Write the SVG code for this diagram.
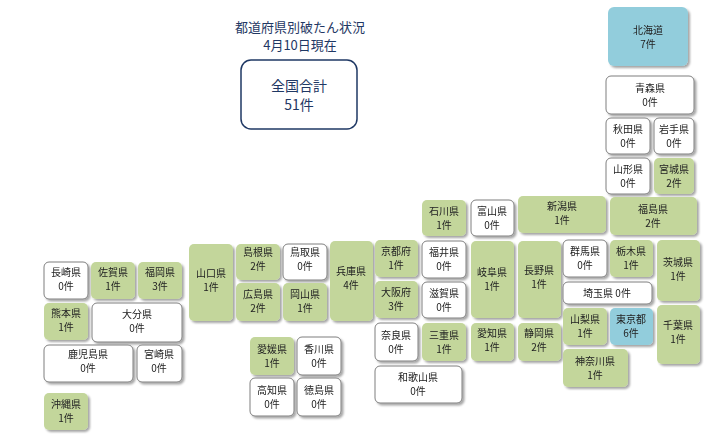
<svg xmlns="http://www.w3.org/2000/svg" width="721" height="438" viewBox="0 0 721 438">
<style>
text{font-family:"Noto Sans CJK JP","Noto Sans CJK SC",sans-serif;font-size:10px;fill:#222;text-anchor:middle}
.g{fill:#c3d69b;stroke:none}
.w{fill:#fff;stroke:#7f7f7f;stroke-width:1}
.b{fill:#92cddc;stroke:none}
.t{font-size:13px;fill:#1f3864}
.n{fill:#fff;stroke:#1f3864;stroke-width:1.5}
.big{font-size:14px;fill:#1f3864}
</style>
<defs><filter id="sh" x="-20%" y="-20%" width="140%" height="140%"><feDropShadow dx="2" dy="2" stdDeviation="1" flood-color="#000" flood-opacity="0.35"/></filter></defs>
<rect width="721" height="438" fill="#fff"/>
<g id="title"><text class="t" x="300" y="32">都道府県別破たん状況</text><text class="t" x="300" y="50">4月10日現在</text></g>
<g id="total"><rect class="n" x="241" y="60" width="116" height="69" rx="10"/><text class="big" x="299" y="91">全国合計</text><text class="big" x="299" y="110">51件</text></g>
<g id="prefs" filter="url(#sh)">
<g id="hokkaido"><rect class="b" x="608" y="7" width="80" height="59" rx="6"/><text x="648" y="34">北海道</text><text x="648" y="48">7件</text></g>
<g id="aomori"><rect class="w" x="606" y="76" width="88" height="38" rx="5"/><text x="650" y="92">青森県</text><text x="650" y="106">0件</text></g>
<g id="akita"><rect class="w" x="606" y="118" width="44" height="36" rx="5"/><text x="628" y="133">秋田県</text><text x="628" y="147">0件</text></g>
<g id="iwate"><rect class="w" x="654" y="118" width="40" height="36" rx="5"/><text x="674" y="133">岩手県</text><text x="674" y="147">0件</text></g>
<g id="yamagata"><rect class="w" x="606" y="158" width="44" height="36" rx="5"/><text x="628" y="173">山形県</text><text x="628" y="187">0件</text></g>
<g id="miyagi"><rect class="g" x="654" y="158" width="40" height="36" rx="5"/><text x="674" y="173">宮城県</text><text x="674" y="187">2件</text></g>
<g id="niigata"><rect class="g" x="518" y="196" width="88" height="37" rx="5"/><text x="562" y="210">新潟県</text><text x="562" y="224">1件</text></g>
<g id="fukushima"><rect class="g" x="610" y="197" width="87" height="38" rx="5"/><text x="653" y="213">福島県</text><text x="653" y="227">2件</text></g>
<g id="ishikawa"><rect class="g" x="422" y="200" width="44" height="36" rx="5"/><text x="444" y="215">石川県</text><text x="444" y="229">1件</text></g>
<g id="toyama"><rect class="w" x="471" y="200" width="43" height="36" rx="5"/><text x="492" y="215">富山県</text><text x="492" y="229">0件</text></g>
<g id="kyoto"><rect class="g" x="375" y="240" width="43" height="37" rx="5"/><text x="396" y="255">京都府</text><text x="396" y="269">1件</text></g>
<g id="fukui"><rect class="w" x="422" y="241" width="44" height="37" rx="5"/><text x="444" y="256">福井県</text><text x="444" y="270">0件</text></g>
<g id="gifu"><rect class="g" x="471" y="241" width="43" height="77" rx="5"/><text x="492" y="276">岐阜県</text><text x="492" y="290">1件</text></g>
<g id="nagano"><rect class="g" x="518" y="241" width="43" height="77" rx="5"/><text x="539" y="274">長野県</text><text x="539" y="288">1件</text></g>
<g id="gunma"><rect class="w" x="563" y="240" width="44" height="37" rx="5"/><text x="585" y="255">群馬県</text><text x="585" y="269">0件</text></g>
<g id="tochigi"><rect class="g" x="610" y="240" width="43" height="37" rx="5"/><text x="631" y="255">栃木県</text><text x="631" y="269">1件</text></g>
<g id="ibaraki"><rect class="g" x="657" y="240" width="43" height="61" rx="5"/><text x="678" y="266">茨城県</text><text x="678" y="280">1件</text></g>
<g id="saitama"><rect class="w" x="563" y="282" width="89" height="22" rx="5"/><text x="607" y="297">埼玉県 0件</text></g>
<g id="osaka"><rect class="g" x="375" y="281" width="43" height="37" rx="5"/><text x="396" y="296">大阪府</text><text x="396" y="310">3件</text></g>
<g id="shiga"><rect class="w" x="422" y="282" width="44" height="36" rx="5"/><text x="444" y="297">滋賀県</text><text x="444" y="311">0件</text></g>
<g id="yamanashi"><rect class="g" x="563" y="308" width="44" height="37" rx="5"/><text x="585" y="323">山梨県</text><text x="585" y="337">1件</text></g>
<g id="tokyo"><rect class="b" x="610" y="308" width="43" height="37" rx="5"/><text x="631" y="323">東京都</text><text x="631" y="337">6件</text></g>
<g id="chiba"><rect class="g" x="657" y="305" width="43" height="59" rx="5"/><text x="678" y="329">千葉県</text><text x="678" y="343">1件</text></g>
<g id="nara"><rect class="w" x="375" y="323" width="43" height="38" rx="5"/><text x="396" y="339">奈良県</text><text x="396" y="353">0件</text></g>
<g id="mie"><rect class="g" x="422" y="323" width="44" height="38" rx="5"/><text x="444" y="339">三重県</text><text x="444" y="353">1件</text></g>
<g id="aichi"><rect class="g" x="471" y="323" width="43" height="38" rx="5"/><text x="492" y="337">愛知県</text><text x="492" y="351">1件</text></g>
<g id="shizuoka"><rect class="g" x="518" y="323" width="43" height="38" rx="5" stroke="#8a9a70" stroke-width="0.8"/><text x="539" y="337">静岡県</text><text x="539" y="351">2件</text></g>
<g id="kanagawa"><rect class="g" x="563" y="349" width="65" height="38" rx="5"/><text x="595" y="365">神奈川県</text><text x="595" y="379">1件</text></g>
<g id="wakayama"><rect class="w" x="375" y="366" width="87" height="37" rx="5"/><text x="418" y="381">和歌山県</text><text x="418" y="395">0件</text></g>
<g id="nagasaki"><rect class="w" x="44" y="262" width="44" height="37" rx="5"/><text x="66" y="276">長崎県</text><text x="66" y="290">0件</text></g>
<g id="saga"><rect class="g" x="91" y="262" width="44" height="37" rx="5"/><text x="113" y="276">佐賀県</text><text x="113" y="290">1件</text></g>
<g id="fukuoka"><rect class="g" x="138" y="262" width="44" height="37" rx="5"/><text x="160" y="276">福岡県</text><text x="160" y="290">3件</text></g>
<g id="kumamoto"><rect class="g" x="44" y="303" width="44" height="37" rx="5"/><text x="66" y="317">熊本県</text><text x="66" y="331">1件</text></g>
<g id="oita"><rect class="w" x="92" y="303" width="90" height="39" rx="5"/><text x="137" y="318">大分県</text><text x="137" y="332">0件</text></g>
<g id="kagoshima"><rect class="w" x="44" y="345" width="89" height="37" rx="5"/><text x="88" y="358">鹿児島県</text><text x="88" y="372">0件</text></g>
<g id="miyazaki"><rect class="w" x="137" y="345" width="45" height="37" rx="5"/><text x="159" y="358">宮崎県</text><text x="159" y="372">0件</text></g>
<g id="okinawa"><rect class="g" x="44" y="393" width="44" height="37" rx="5"/><text x="66" y="408">沖縄県</text><text x="66" y="422">1件</text></g>
<g id="yamaguchi"><rect class="g" x="189" y="244" width="44" height="77" rx="5"/><text x="211" y="277">山口県</text><text x="211" y="291">1件</text></g>
<g id="shimane"><rect class="g" x="236" y="244" width="44" height="36" rx="5"/><text x="258" y="256">島根県</text><text x="258" y="270">2件</text></g>
<g id="tottori"><rect class="w" x="283" y="244" width="44" height="36" rx="5"/><text x="305" y="256">鳥取県</text><text x="305" y="270">0件</text></g>
<g id="hiroshima"><rect class="g" x="236" y="283" width="44" height="38" rx="5"/><text x="258" y="298">広島県</text><text x="258" y="312">2件</text></g>
<g id="okayama"><rect class="g" x="283" y="283" width="44" height="38" rx="5"/><text x="305" y="298">岡山県</text><text x="305" y="312">1件</text></g>
<g id="hyogo"><rect class="g" x="330" y="241" width="43" height="80" rx="5"/><text x="351" y="275">兵庫県</text><text x="351" y="289">4件</text></g>
<g id="ehime"><rect class="g" x="250" y="337" width="44" height="38" rx="5"/><text x="272" y="353">愛媛県</text><text x="272" y="367">1件</text></g>
<g id="kagawa"><rect class="w" x="297" y="337" width="44" height="38" rx="5"/><text x="319" y="353">香川県</text><text x="319" y="367">0件</text></g>
<g id="kochi"><rect class="w" x="250" y="378" width="44" height="38" rx="5"/><text x="272" y="394">高知県</text><text x="272" y="408">0件</text></g>
<g id="tokushima"><rect class="w" x="297" y="378" width="44" height="38" rx="5"/><text x="319" y="394">徳島県</text><text x="319" y="408">0件</text></g>
</g>
<g id="connectors"/>
</svg>
